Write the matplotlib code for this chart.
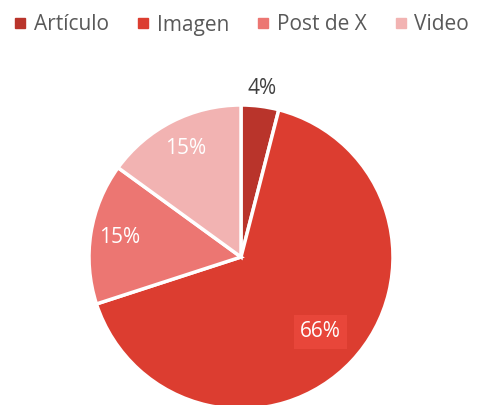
import matplotlib.pyplot as plt
from matplotlib.lines import Line2D
import numpy as np

# data
categorias = ['Artículo', 'Imagen', 'Post de X', 'Video']
porcentajes = [4, 66, 15, 15]
colores = ['#B9342B', '#DC3D30', '#EC7672', '#F2B3B2']

plt.rcParams['font.family'] = ['Open Sans', 'DejaVu Sans']

W, H = 482, 405
fig = plt.figure(figsize=(W / 100, H / 100), dpi=100)

# pie centre (241, 257) px from top, radius 152 px
cx, cy, r = 241, H - 257, 152
ax = fig.add_axes([(cx - r) / W, (cy - r) / H, 2 * r / W, 2 * r / H])

wedges, _ = ax.pie(porcentajes, colors=colores, startangle=90, counterclock=False,
                   radius=1, wedgeprops=dict(edgecolor='white', linewidth=2.5))
ax.set_xlim(-1, 1)
ax.set_ylim(-1, 1)
ax.set_aspect('equal')
ax.axis('off')

dist = [1.12, 0.72, 0.81, 0.80]
for i, (w, p, d) in enumerate(zip(wedges, porcentajes, dist)):
    ang = np.deg2rad((w.theta1 + w.theta2) / 2)
    x, y = d * np.cos(ang), d * np.sin(ang)
    if i == 0:
        ax.text(x, y, f'{p}%', ha='center', va='center', fontsize=15, color='#404040')
    elif i == 1:
        ax.text(x, y, f'{p}%', ha='center', va='center', fontsize=15, color='white',
                bbox=dict(boxstyle='square,pad=0.3', facecolor='#E8463A', edgecolor='none'))
    else:
        ax.text(x, y, f'{p}%', ha='center', va='center', fontsize=15, color='white')

handles = [Line2D([], [], marker='s', linestyle='none', markersize=6.5,
                  markerfacecolor=c, markeredgecolor=c) for c in colores]
fig.legend(handles, categorias, loc='center', bbox_to_anchor=(0.5, 1 - 25 / H), ncol=4,
           frameon=False, fontsize=15, labelcolor='#595959', handletextpad=0.3,
           columnspacing=1.3, handlelength=0.7)

fig.savefig('out.png', dpi=100)
